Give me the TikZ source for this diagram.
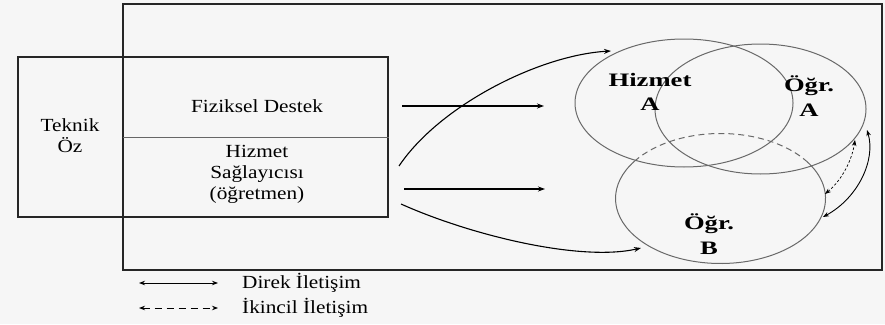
\documentclass[tikz,border=0pt]{standalone}
\usepackage{fontspec}
\setmainfont{Liberation Serif}
\newfontfamily\textwide[FakeStretch=1.15]{Liberation Serif}
\newfontfamily\tagwide[FakeStretch=1.4]{Liberation Serif Bold}
\usetikzlibrary{shapes.geometric,arrows.meta,calc}
\definecolor{paper}{RGB}{246,246,246}
\definecolor{ringline}{RGB}{105,105,105}
\tikzset{
  frame/.style={draw=black!85, line width=1.6pt, rectangle, inner sep=0pt},
  plain/.style={font=\textwide\fontsize{18.5}{21}\selectfont, align=center, inner sep=0pt},
  tag/.style={font=\tagwide\fontsize{19}{24.5}\selectfont, align=center, inner sep=0pt},
  ring/.style={draw=ringline, line width=1pt},
  flow/.style={line width=1.1pt, -{Stealth[length=7pt,width=5pt]}},
  both/.style={line width=0.9pt, {Stealth[length=6pt,width=4.5pt]}-{Stealth[length=6pt,width=4.5pt]}},
  dotboth/.style={both, dash pattern=on 2.5pt off 2pt, line width=0.7pt}
}
\begin{document}
\begin{tikzpicture}[x=1pt,y=-1pt]
  % canvas
  \fill[paper] (0,0) rectangle (885,324);
  \useasboundingbox (0,0) rectangle (885,324);

  % outer frame and left block
  \node[frame, minimum width=759pt, minimum height=266pt] (outer) at (502.5,137) {};
  \node[frame, minimum width=370pt, minimum height=160pt] (block) at (203,137) {};
  \coordinate (divL) at (123,137);
  \draw[black!60, line width=0.8pt] (divL) -- (divL -| block.east);

  % labels in the block
  \node[plain] (teknik) at (70,136) {Teknik\\Öz};
  \node[plain] (fiziksel) at (257,106) {Fiziksel Destek};
  \node[plain] (saglayici) at (257,174) {Hizmet\\Sağlayıcısı\\(öğretmen)};

  % three overlapping circles
  \node[ring, ellipse, minimum width=218pt, minimum height=128pt, inner sep=0pt] (hizA) at (684,103) {};
  \node[ring, ellipse, minimum width=211pt, minimum height=130pt, inner sep=0pt] (ogrA) at (760.5,109) {};
  \node[ellipse, minimum width=210pt, minimum height=130pt, inner sep=0pt] (ogrB) at (720.5,198.5) {};
  \draw[ring] ($(ogrB.center)+(-35:105 and 65)$) arc[start angle=-35, end angle=215, x radius=105, y radius=65];
  \draw[ring, dash pattern=on 6pt off 4pt] ($(ogrB.center)+(215:105 and 65)$) arc[start angle=215, end angle=325, x radius=105, y radius=65];

  \node[tag] (tHiz) at (650,92) {Hizmet\\A};
  \node[tag] (tOA) at (809,96) {Öğr.\\A};
  \node[tag] (tOB) at (709,234) {Öğr.\\B};

  % arrows from the block
  \coordinate (s1) at (402,106);  \coordinate (e1) at (544,106);
  \coordinate (s2) at (404,189);  \coordinate (e2) at (545,189);
  \coordinate (s3) at (399,166);  \coordinate (e3) at (611,51);
  \coordinate (s4) at (401,204);  \coordinate (e4) at (641,248);
  \draw[flow] (s1) -- (e1);
  \draw[flow] (s2) -- (e2);
  \draw[flow] (s3) .. controls (440,105) and (540,55) .. (e3);
  \draw[flow] (s4) .. controls (470,235) and (580,262) .. (e4);

  % exchange between the circles
  \coordinate (b1) at (823,217);  \coordinate (a1) at (867,130);
  \coordinate (b2) at (825,194);  \coordinate (a2) at (855,140);
  \draw[both] (b1) .. controls (858,198) and (876,160) .. (a1);
  \draw[dotboth] (b2) .. controls (842,180) and (852,160) .. (a2);

  % legend
  \coordinate (l1a) at (139,283); \coordinate (l1b) at (218,283);
  \coordinate (l2a) at (139,308); \coordinate (l2b) at (218,308);
  \draw[both] (l1a) -- (l1b);
  \draw[both, dash pattern=on 7pt off 5pt] (l2a) -- (l2b);
  \node[plain, anchor=west] (lg1) at (242,283) {Direk İletişim};
  \node[plain, anchor=west] (lg2) at (242,308) {İkincil İletişim};
\end{tikzpicture}
\end{document}
